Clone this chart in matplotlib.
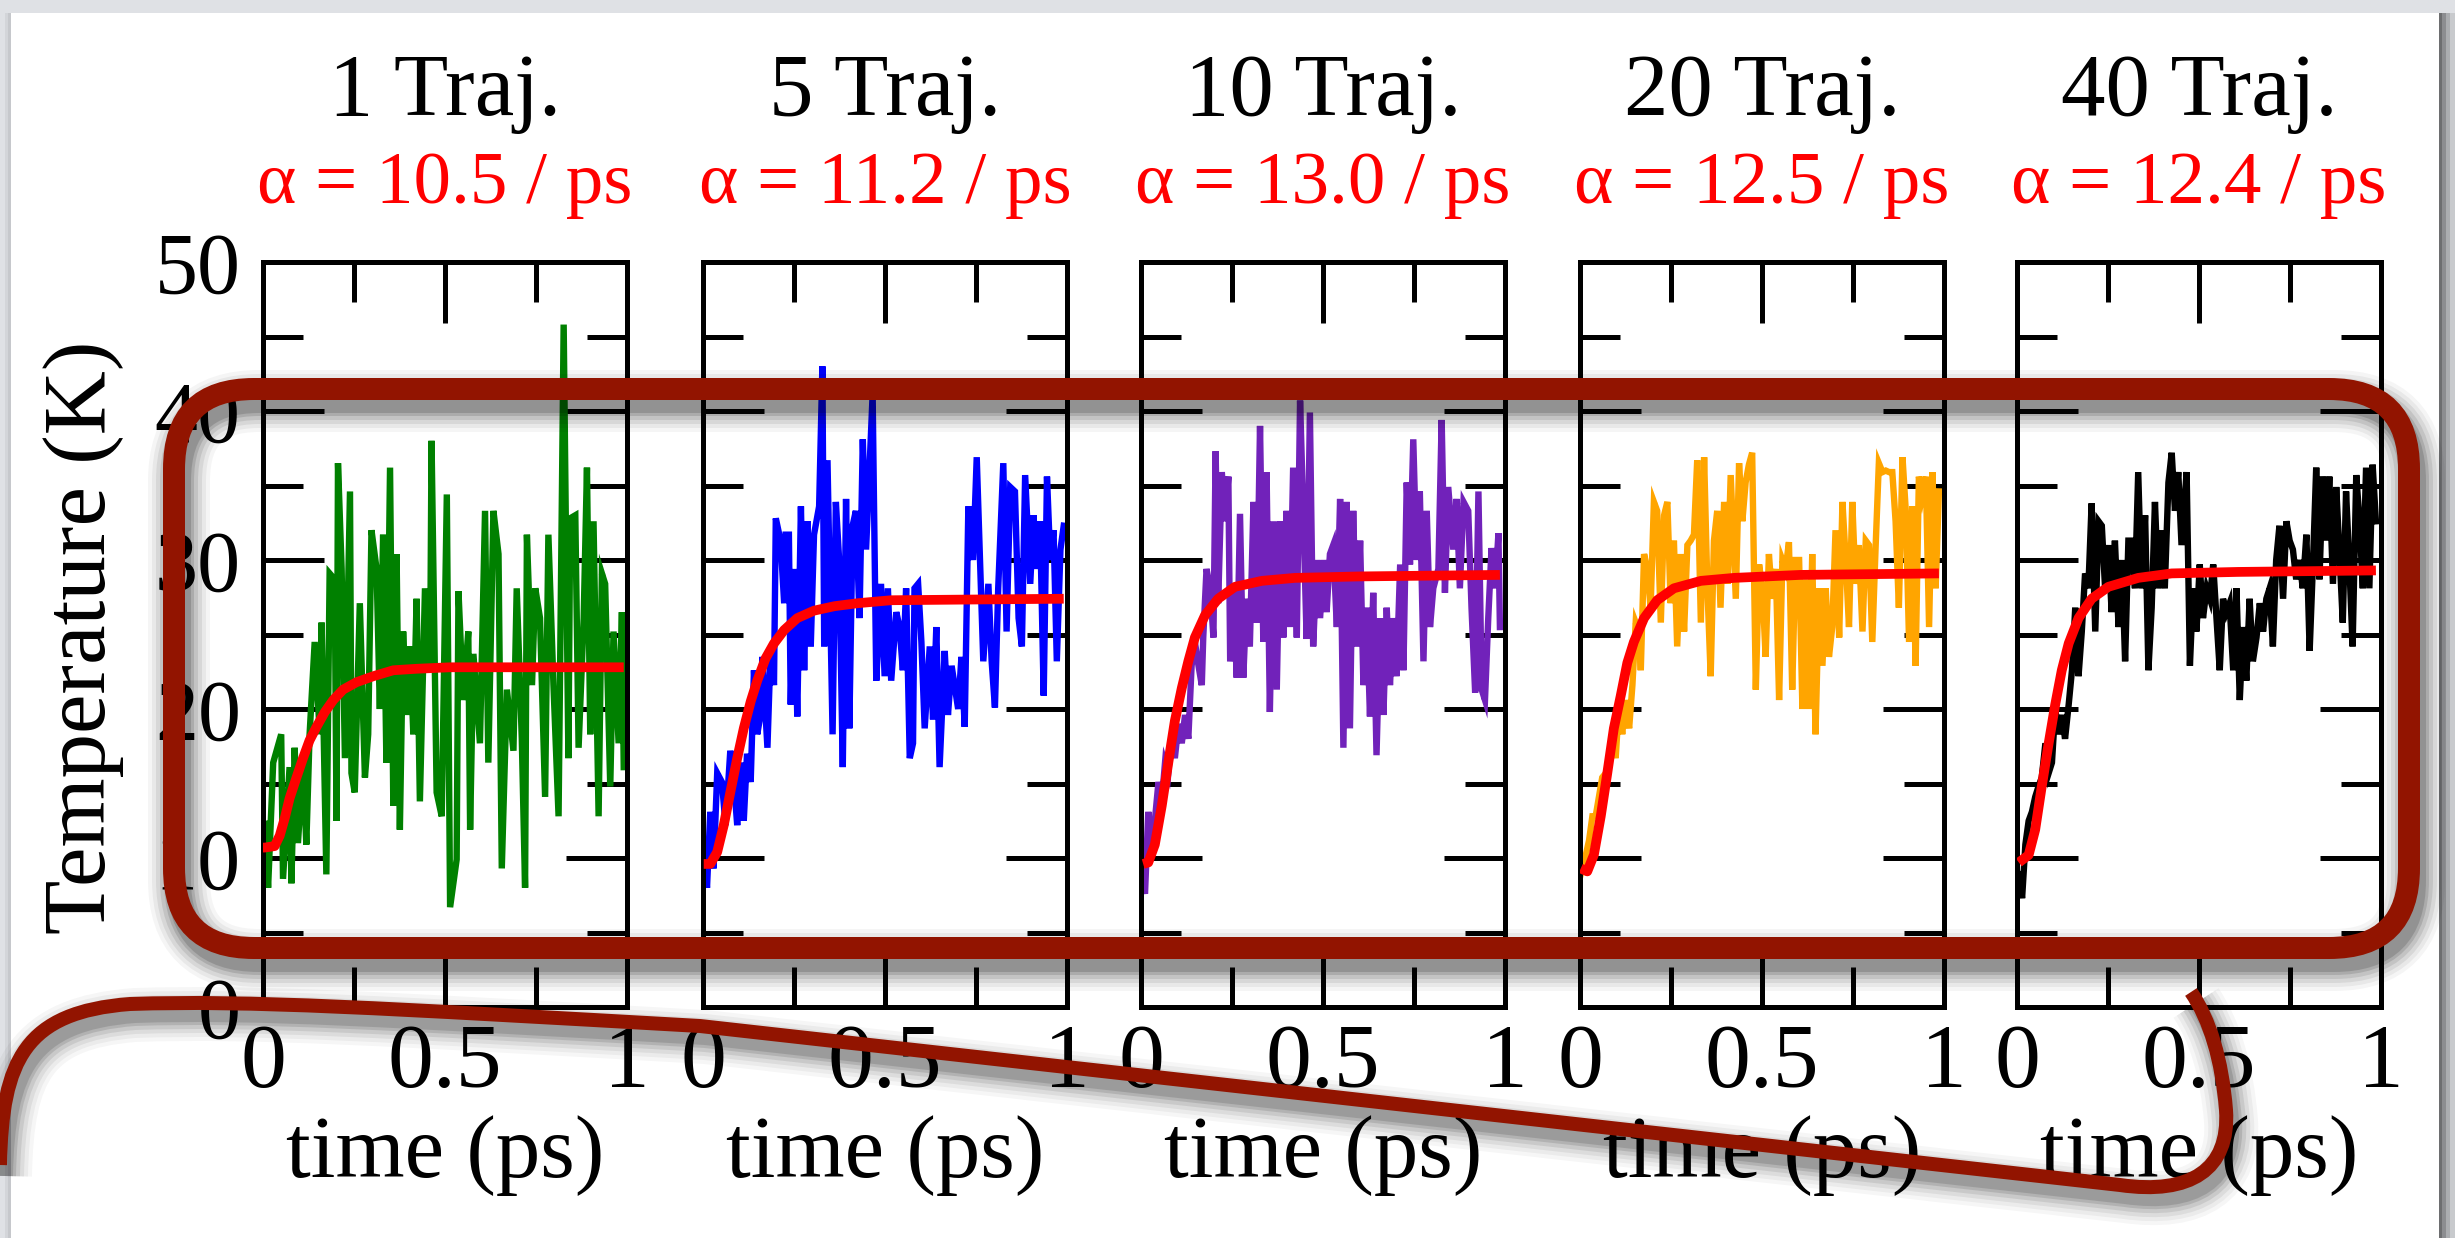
import matplotlib
matplotlib.use('Agg')
import matplotlib.pyplot as plt
from matplotlib.patches import FancyBboxPatch, Rectangle, PathPatch
from matplotlib.path import Path
from matplotlib.ticker import MultipleLocator

plt.rcParams['font.family'] = ['Liberation Serif', 'DejaVu Serif']

# ---------------- data ----------------
panel_titles = ['1 Traj.', '5 Traj.', '10 Traj.', '20 Traj.', '40 Traj.']
alpha_values = [10.5, 11.2, 13.0, 12.5, 12.4]
trace_colors = ['#008000', '#0000ff', '#7122ba', '#ffa500', '#000000']
fit_color = '#ff0000'

x_ticks = [0, 0.5, 1]
x_tick_labels = ['0', '0.5', '1']
y_ticks = [0, 10, 20, 30, 40, 50]
y_tick_labels = ['0', '10', '20', '30', '40', '50']

t_1traj = [0.000,0.005,0.014,0.028,0.050,0.055,0.073,0.078,0.087,0.096,
           0.110,0.119,0.128,0.142,0.156,0.161,0.174,0.183,0.197,0.202,
           0.206,0.216,0.225,0.239,0.243,0.252,0.266,0.280,0.289,0.298,
           0.312,0.321,0.330,0.339,0.349,0.358,0.367,0.376,0.385,0.394,
           0.404,0.413,0.422,0.431,0.445,0.459,0.463,0.477,0.491,0.505,
           0.514,0.532,0.537,0.550,0.564,0.569,0.578,0.596,0.610,0.619,
           0.633,0.647,0.656,0.670,0.688,0.697,0.711,0.720,0.725,0.739,
           0.748,0.761,0.775,0.784,0.798,0.812,0.826,0.839,0.844,0.858,
           0.867,0.881,0.890,0.899,0.908,0.922,0.931,0.940,0.954,0.963,
           0.977,0.986,0.991]
temp_1traj = [10.2,12.5,8.0,16.4,18.3,8.6,16.1,8.3,17.4,11.0,
              16.4,10.9,18.3,24.5,18.3,25.8,8.9,29.1,28.7,12.5,
              36.5,29.4,16.7,34.6,15.7,14.4,27.1,15.4,18.3,32.0,
              29.4,20.0,31.7,16.4,36.2,13.5,30.4,11.9,25.2,19.6,
              24.2,18.3,27.4,13.8,28.1,22.6,38.0,14.4,12.8,34.4,
              6.7,9.9,27.9,20.6,25.2,11.9,23.7,17.7,33.3,16.4,
              33.3,30.4,9.3,21.3,17.2,28.1,18.0,8.0,31.7,21.6,
              28.1,26.1,14.1,31.7,21.6,12.8,45.8,16.7,32.8,33.0,
              17.4,26.1,36.2,18.3,32.6,12.8,29.1,28.4,14.8,25.2,
              17.7,26.5,16.1]

t_5traj = [0.002,0.011,0.020,0.029,0.039,0.052,0.062,0.075,0.085,0.094,
           0.103,0.112,0.121,0.131,0.140,0.149,0.158,0.163,0.177,0.186,
           0.195,0.200,0.213,0.223,0.227,0.236,0.241,0.250,0.259,0.269,
           0.278,0.287,0.296,0.305,0.319,0.328,0.333,0.342,0.356,0.365,
           0.374,0.384,0.393,0.402,0.411,0.420,0.430,0.439,0.448,0.466,
           0.476,0.489,0.499,0.508,0.517,0.531,0.540,0.549,0.558,0.568,
           0.577,0.581,0.591,0.600,0.609,0.623,0.632,0.641,0.650,0.664,
           0.673,0.683,0.701,0.710,0.719,0.729,0.742,0.752,0.761,0.770,
           0.784,0.793,0.802,0.811,0.825,0.834,0.844,0.857,0.867,0.876,
           0.885,0.899,0.908,0.917,0.926,0.936,0.945,0.954,0.963,0.972,
           0.982,0.991]
temp_5traj = [10.6,8.0,13.1,9.3,15.7,15.1,12.2,17.2,15.1,12.2,
              16.4,12.5,17.0,15.1,22.6,18.3,19.6,23.5,17.4,24.2,
              21.6,32.8,31.3,27.1,31.7,31.7,20.3,29.4,19.5,33.6,
              22.6,32.6,24.2,31.7,33.6,43.0,24.2,36.7,18.3,33.9,
              30.0,16.1,34.1,18.7,32.3,33.3,26.1,38.1,30.7,41.1,
              21.9,28.4,22.2,28.1,21.9,26.5,25.5,22.6,28.1,16.7,
              17.7,28.1,28.4,24.5,18.7,24.2,19.3,25.5,16.1,23.9,
              19.6,22.9,20.0,23.5,18.8,33.6,30.0,36.9,30.0,23.2,
              28.4,23.2,20.1,28.1,36.5,25.2,34.9,34.6,26.1,24.2,
              35.7,28.4,33.0,29.4,32.6,20.9,35.6,30.0,32.0,23.2,
              30.7,32.3]

t_10traj = [0.002,0.011,0.020,0.029,0.038,0.048,0.057,0.066,0.075,0.084,
            0.093,0.103,0.112,0.121,0.130,0.139,0.148,0.158,0.167,0.171,
            0.180,0.190,0.199,0.205,0.212,0.222,0.231,0.240,0.245,0.254,
            0.263,0.272,0.281,0.290,0.299,0.309,0.318,0.327,0.336,0.345,
            0.354,0.364,0.373,0.382,0.391,0.400,0.409,0.418,0.428,0.437,
            0.446,0.455,0.464,0.473,0.483,0.492,0.501,0.510,0.519,0.528,
            0.538,0.547,0.556,0.565,0.574,0.583,0.592,0.602,0.611,0.620,
            0.629,0.638,0.647,0.657,0.666,0.675,0.684,0.693,0.702,0.712,
            0.721,0.730,0.739,0.748,0.757,0.766,0.776,0.785,0.794,0.803,
            0.817,0.826,0.835,0.844,0.858,0.867,0.876,0.886,0.899,0.908,
            0.918,0.927,0.936,0.945,0.954,0.963,0.973,0.982,0.986]
temp_10traj = [8.6,7.6,13.1,10.2,12.5,15.1,13.8,16.4,15.7,18.3,
               16.7,19.0,17.7,19.6,18.0,22.9,24.5,22.9,21.6,24.8,
               29.4,28.1,24.8,37.3,27.1,35.9,32.6,35.6,23.2,28.1,
               22.1,33.1,22.1,27.4,24.2,33.9,25.8,39.0,24.5,35.9,
               19.8,32.6,21.3,32.6,24.8,33.3,25.5,36.2,24.8,40.7,
               33.0,24.7,39.9,24.2,30.0,26.1,30.0,26.5,30.4,31.0,
               25.5,34.1,17.4,33.9,18.7,33.3,24.2,31.3,21.6,26.8,
               19.5,27.8,16.9,26.1,19.6,26.8,21.6,26.1,22.2,29.7,
               22.6,35.2,29.7,38.1,30.0,34.6,23.2,33.3,25.5,28.1,
               29.4,39.4,27.8,34.9,30.7,34.1,28.1,33.9,33.3,26.8,
               21.1,34.6,21.3,20.6,26.1,30.8,28.1,31.8,25.5]

t_20traj = [0.002,0.016,0.025,0.034,0.043,0.052,0.061,0.071,0.080,0.089,
            0.098,0.107,0.116,0.125,0.135,0.144,0.153,0.162,0.167,0.176,
            0.185,0.194,0.203,0.212,0.222,0.231,0.240,0.249,0.258,0.267,
            0.277,0.286,0.295,0.304,0.313,0.322,0.332,0.341,0.350,0.359,
            0.368,0.377,0.386,0.396,0.405,0.414,0.428,0.437,0.446,0.455,
            0.464,0.473,0.483,0.492,0.501,0.510,0.519,0.528,0.538,0.547,
            0.556,0.565,0.574,0.583,0.592,0.602,0.611,0.620,0.629,0.638,
            0.647,0.657,0.666,0.675,0.684,0.693,0.702,0.712,0.721,0.730,
            0.739,0.748,0.757,0.766,0.776,0.785,0.794,0.803,0.812,0.821,
            0.831,0.840,0.849,0.858,0.867,0.876,0.886,0.895,0.904,0.913,
            0.922,0.931,0.940,0.950,0.959,0.968,0.977,0.986]
temp_20traj = [8.9,10.2,11.2,12.8,12.8,14.1,15.4,15.7,16.4,18.3,
               16.7,20.3,18.3,20.6,18.7,21.6,25.8,25.2,22.6,30.4,
               29.4,26.8,33.9,33.3,25.8,33.0,33.9,27.1,31.3,24.2,
               30.4,25.2,31.0,31.3,31.7,36.7,25.8,36.9,28.1,22.2,
               31.3,33.3,26.8,33.9,28.4,35.7,27.4,36.5,32.6,35.2,
               36.4,37.2,21.3,29.7,28.1,23.5,30.4,27.4,29.4,20.6,
               30.0,29.4,31.2,21.3,30.0,30.0,20.0,28.7,20.0,30.4,
               18.3,28.1,22.9,28.1,23.5,25.5,32.0,24.8,33.9,30.0,
               25.5,33.9,28.4,31.0,25.2,31.3,31.0,24.5,30.8,36.5,
               35.9,36.0,35.9,35.9,32.6,26.8,36.9,33.3,24.5,33.6,
               22.9,35.6,34.3,35.6,25.5,35.9,28.1,34.6]

t_40traj = [0.005,0.014,0.023,0.032,0.041,0.050,0.059,0.068,0.078,0.087,
            0.096,0.105,0.114,0.123,0.132,0.142,0.151,0.160,0.169,0.178,
            0.187,0.196,0.205,0.215,0.224,0.233,0.242,0.251,0.260,0.269,
            0.279,0.288,0.297,0.306,0.315,0.324,0.333,0.342,0.352,0.361,
            0.370,0.379,0.388,0.397,0.406,0.416,0.425,0.434,0.443,0.452,
            0.466,0.475,0.484,0.493,0.502,0.511,0.521,0.530,0.539,0.548,
            0.557,0.566,0.575,0.584,0.594,0.603,0.612,0.621,0.630,0.639,
            0.648,0.658,0.667,0.676,0.685,0.694,0.703,0.712,0.721,0.731,
            0.740,0.749,0.758,0.767,0.776,0.785,0.795,0.804,0.813,0.822,
            0.831,0.840,0.849,0.858,0.868,0.877,0.886,0.895,0.904,0.913,
            0.922,0.932,0.941,0.950,0.959,0.968,0.977,0.986]
temp_40traj = [8.9,7.3,10.9,12.5,13.1,14.1,14.8,15.4,17.7,15.7,
               16.4,20.0,18.3,19.6,18.0,20.3,22.6,26.8,22.2,25.2,
               29.1,28.1,33.8,25.2,32.6,32.3,28.1,31.0,26.5,31.3,
               25.5,30.0,23.2,31.3,31.3,28.1,35.9,28.1,33.0,22.6,
               26.8,33.9,28.1,32.0,28.1,35.2,37.2,33.3,35.9,31.0,
               35.9,22.9,28.1,25.2,29.7,26.1,28.1,27.4,29.7,26.1,
               22.6,27.4,26.5,27.1,22.6,28.1,20.6,25.5,21.9,27.4,
               23.2,24.8,27.1,25.2,27.4,28.1,24.2,30.0,32.3,27.4,
               32.6,31.3,30.7,28.7,30.0,28.1,31.7,23.9,29.7,36.2,
               28.7,35.6,31.3,35.6,28.4,34.9,30.4,25.8,34.6,29.7,
               24.2,35.7,32.6,28.1,36.2,28.1,36.4,32.6]

fit_t_1traj = [0.0,0.005,0.032,0.046,0.060,0.073,0.092,0.110,0.128,0.147,0.170,
               0.193,0.220,0.257,0.303,0.358,0.422,0.514,0.991]
fit_temp_1traj = [10.7,10.7,10.8,11.5,12.7,14.0,15.4,16.7,17.9,18.8,19.8,
                  20.6,21.3,21.8,22.2,22.6,22.7,22.8,22.8]
fit_t_5traj = [0.002,0.020,0.039,0.057,0.075,0.094,0.112,0.131,0.149,0.172,
               0.195,0.223,0.259,0.305,0.361,0.425,0.517,0.991]
fit_temp_5traj = [9.6,9.6,10.4,12.2,14.4,16.7,18.7,20.5,21.9,23.4,
                  24.4,25.3,26.1,26.6,26.9,27.1,27.3,27.4]
fit_t_10traj = [0.006,0.020,0.038,0.057,0.075,0.093,0.112,0.130,0.148,0.176,
                0.212,0.258,0.332,0.423,0.606,0.986]
fit_temp_10traj = [9.6,9.7,10.9,13.5,16.4,19.2,21.4,23.2,24.8,26.3,
                   27.4,28.2,28.6,28.8,28.9,29.0]
fit_t_20traj = [0.002,0.020,0.038,0.057,0.075,0.093,0.112,0.130,0.148,0.176,
                0.212,0.258,0.332,0.423,0.606,0.986]
fit_temp_20traj = [9.3,9.1,10.2,12.8,15.7,18.7,20.9,23.1,24.5,26.1,
                   27.3,28.1,28.6,28.8,29.0,29.1]
fit_t_40traj = [0.005,0.032,0.050,0.068,0.087,0.105,0.123,0.142,0.169,0.205,
                0.251,0.333,0.425,0.607,0.986]
fit_temp_40traj = [9.7,10.2,11.9,14.8,17.7,20.3,22.6,24.4,26.1,27.4,
                   28.2,28.8,29.1,29.2,29.3]

traces_t = [t_1traj, t_5traj, t_10traj, t_20traj, t_40traj]
traces_temp = [temp_1traj, temp_5traj, temp_10traj, temp_20traj, temp_40traj]
fits_t = [fit_t_1traj, fit_t_5traj, fit_t_10traj, fit_t_20traj, fit_t_40traj]
fits_temp = [fit_temp_1traj, fit_temp_5traj, fit_temp_10traj, fit_temp_20traj, fit_temp_40traj]

# ---------------- layout (pixels) ----------------
W, H = 2455, 1238
fig = plt.figure(figsize=(W / 100, H / 100), dpi=100)
fig.patch.set_facecolor('#dfe1e5')

# background slide
bg = fig.add_axes([0, 0, 1, 1], zorder=-10)
bg.set_xlim(0, W); bg.set_ylim(H, 0); bg.axis('off')
for k, a in [(16, 0.10), (11, 0.14), (7, 0.18), (3, 0.22)]:
    bg.add_patch(Rectangle((11, 13), 2428 + k, H, facecolor='black', alpha=a, lw=0))
for k, a in [(6, 0.05), (3, 0.06)]:
    bg.add_patch(Rectangle((11 - k, 13), 10, H, facecolor='black', alpha=a, lw=0))
bg.add_patch(Rectangle((11, 13), 2428, H, facecolor='white', lw=0))

left_px = [263, 703, 1141, 1580, 2017]
width_px = 364
top_px, bottom_px = 262, 1007

for i in range(5):
    ax = fig.add_axes([left_px[i] / W, 1 - bottom_px / H, width_px / W,
                       (bottom_px - top_px) / H])
    ax.set_facecolor('white')
    ax.plot(traces_t[i], traces_temp[i], color=trace_colors[i], lw=4.6,
            solid_joinstyle='miter', zorder=2)
    ax.plot(fits_t[i], fits_temp[i], color=fit_color, lw=7, zorder=3,
            solid_capstyle='butt')
    ax.set_xlim(0, 1)
    ax.set_ylim(0, 50)
    ax.set_xticks(x_ticks)
    ax.set_xticklabels(x_tick_labels)
    ax.set_yticks(y_ticks)
    ax.set_yticklabels(y_tick_labels if i == 0 else [])
    ax.xaxis.set_minor_locator(MultipleLocator(0.25))
    ax.yaxis.set_minor_locator(MultipleLocator(5))
    ax.tick_params(which='both', direction='in', top=True, right=True,
                   width=3.6, color='black')
    ax.tick_params(which='major', length=44)
    ax.tick_params(which='minor', length=29)
    ax.tick_params(axis='x', which='major', labelsize=66, pad=12)
    ax.tick_params(axis='y', which='major', labelsize=62, pad=16)
    for s in ax.spines.values():
        s.set_linewidth(3.6)

    cx = (left_px[i] + width_px / 2) / W
    fig.text(cx, 1 - 115 / H, panel_titles[i], ha='center', va='baseline',
             fontsize=64, color='black')
    fig.text(cx, 1 - 203 / H, 'α = %.1f / ps' % alpha_values[i], ha='center',
             va='baseline', fontsize=54, color='#ff0000')
    fig.text(cx, 1 - 1177 / H, 'time (ps)', ha='center', va='baseline',
             fontsize=64, color='black')

fig.text(84 / W, 1 - 637 / H, 'Temperature (K)', rotation=90, ha='center',
         va='center', fontsize=64, color='black')

# ---------------- overlay annotation ----------------
ov = fig.add_axes([0, 0, 1, 1], zorder=20)
ov.set_xlim(0, W); ov.set_ylim(H, 0); ov.axis('off')
ov.patch.set_alpha(0)

dark_red = '#921400'
rx0, ry0, rx1, ry1 = 174, 389, 2409, 948

curve_verts = [(0, 1165), (2, 1060), (25, 1012), (130, 1004),
               (250, 1000), (380, 1008), (700, 1026),
               (2120, 1185),
               (2190, 1195), (2230, 1170), (2226, 1110),
               (2222, 1060), (2210, 1020), (2191, 992)]
curve_codes = [Path.MOVETO, Path.CURVE4, Path.CURVE4, Path.CURVE4,
               Path.CURVE4, Path.CURVE4, Path.CURVE4,
               Path.LINETO,
               Path.CURVE4, Path.CURVE4, Path.CURVE4,
               Path.CURVE4, Path.CURVE4, Path.CURVE4]

# shadows
for extra, a in [(40, 0.04), (32, 0.05), (24, 0.07), (16, 0.09), (8, 0.12), (2, 0.14)]:
    ov.add_patch(FancyBboxPatch((rx0 + 5, ry0 + 12), rx1 - rx0, ry1 - ry0,
                                boxstyle='round,pad=0,rounding_size=80',
                                fill=False, ec='black', alpha=a,
                                lw=(22 + extra) * 0.72))
    sv = [(x + 5, y + 11) for x, y in curve_verts]
    ov.add_patch(PathPatch(Path(sv, curve_codes), fill=False, ec='black',
                           alpha=a * 0.9, lw=(14 + extra) * 0.72))

ov.add_patch(FancyBboxPatch((rx0, ry0), rx1 - rx0, ry1 - ry0,
                            boxstyle='round,pad=0,rounding_size=80',
                            fill=False, ec=dark_red, lw=22 * 0.72))
ov.add_patch(PathPatch(Path(curve_verts, curve_codes), fill=False,
                       ec=dark_red, lw=14 * 0.72, capstyle='butt'))

fig.savefig('out.png', dpi=100, facecolor=fig.get_facecolor())
